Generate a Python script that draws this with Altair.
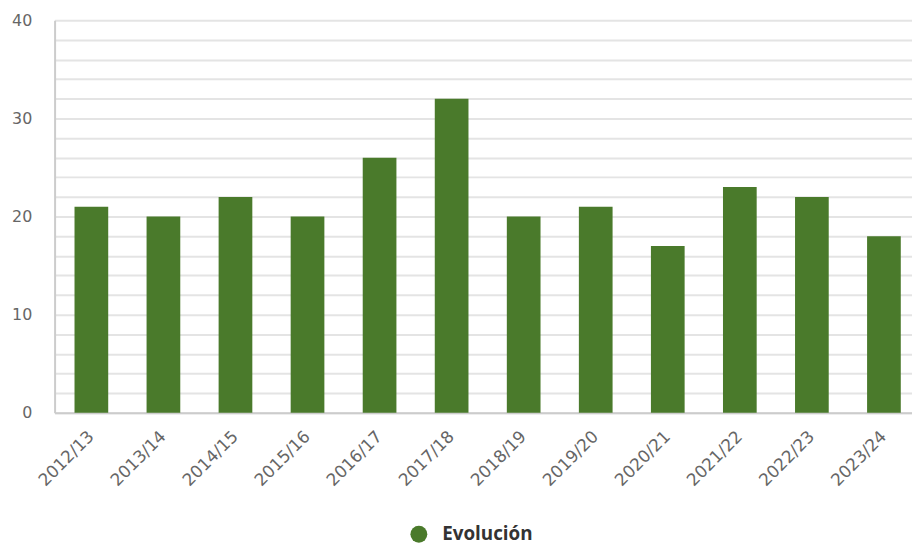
import altair as alt
import pandas as pd

seasons = ["2012/13", "2013/14", "2014/15", "2015/16", "2016/17", "2017/18",
           "2018/19", "2019/20", "2020/21", "2021/22", "2022/23", "2023/24"]
values = [21, 20, 22, 20, 26, 32, 20, 21, 17, 23, 22, 18]
series = ["Evolución"] * len(seasons)

df = pd.DataFrame({"season": seasons, "value": values, "serie": series})

chart = alt.Chart(df).mark_bar(size=34).encode(
    x=alt.X("season:N", sort=seasons, title=None,
            scale=alt.Scale(paddingInner=0.532, paddingOuter=0.216, align=0.64, round=False),
            axis=alt.Axis(labelAngle=-45, labelAlign="right", labelBaseline="middle",
                          labelPadding=21, ticks=False, domain=True,
                          domainColor="#cccccc", domainWidth=2,
                          labelFont="DejaVu Sans", labelFontSize=17, labelColor="#666666",
                          grid=False)),
    y=alt.Y("value:Q", title=None,
            scale=alt.Scale(domain=[0, 40], nice=False),
            axis=alt.Axis(values=list(range(0, 41, 2)),
                          labelExpr="datum.value % 10 == 0 ? datum.label : ''",
                          ticks=False, domain=True, domainColor="#cccccc", domainWidth=2,
                          grid=True, gridColor="#e4e4e4", gridWidth=2,
                          labelPadding=23, labelFont="DejaVu Sans", labelFontSize=16,
                          labelColor="#666666")),
    color=alt.Color("serie:N", scale=alt.Scale(range=["#4a7a2b"]),
                    legend=alt.Legend(title=None, orient="none", legendX=358, legendY=509,
                                      symbolType="circle", symbolSize=290,
                                      symbolStrokeWidth=0, symbolOpacity=1,
                                      labelFont="Open Sans", labelFontWeight="bold",
                                      labelFontSize=19, labelColor="#333333",
                                      labelOffset=14, padding=0)),
).properties(
    width=865, height=396,
    autosize=alt.AutoSizeParams(type="none"),
    padding={"left": 47, "top": 10, "right": 0, "bottom": 131},
).configure_view(stroke=None)

chart.save("out.html", embed_options={"renderer": "svg", "actions": False})
